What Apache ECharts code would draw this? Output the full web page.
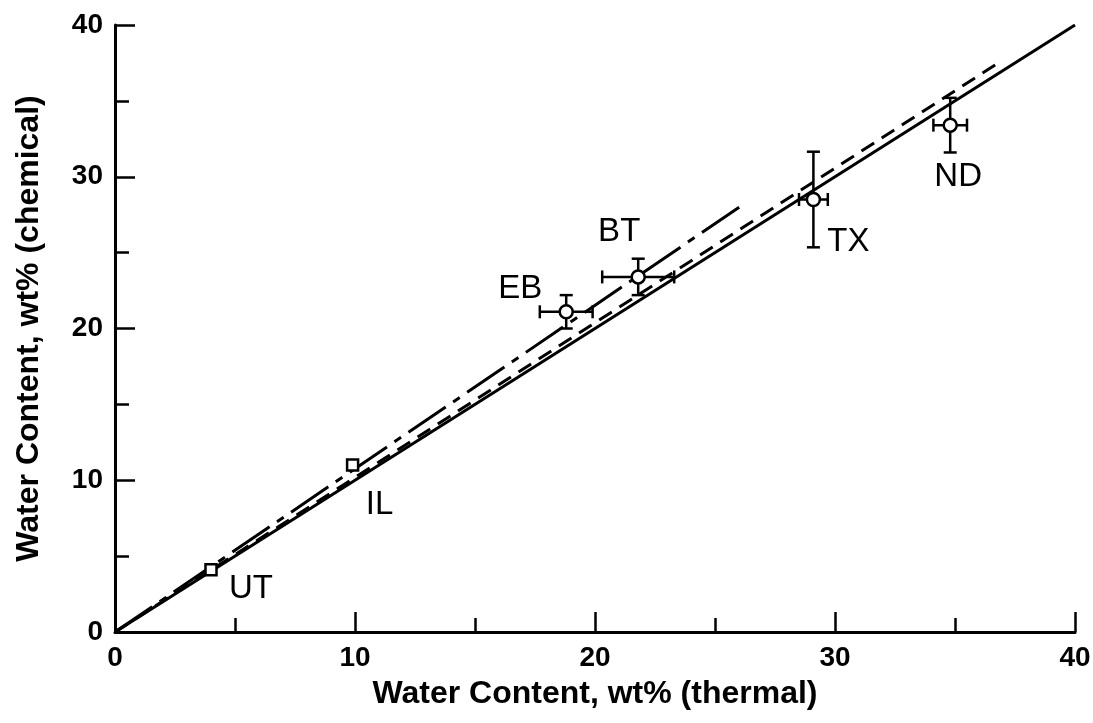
<!DOCTYPE html>
<html>
<head>
<meta charset="utf-8">
<script src="https://cdn.jsdelivr.net/npm/echarts@6/dist/echarts.min.js"></script>
<style>
html,body{margin:0;padding:0;background:#fff;}
#chart{width:1093px;height:723px;}
</style>
</head>
<body>
<div id="chart"></div>
<script>
// ---- data ----
const sites        = ['UT', 'IL', 'EB', 'BT', 'TX', 'ND'];
const thermal      = [4.0, 9.9, 18.8, 21.8, 29.1, 34.8];
const chemical     = [4.1, 11.0, 21.1, 23.4, 28.5, 33.4];
const thermalErr   = [0, 0, 1.1, 1.5, 0.6, 0.7];
const chemicalErr  = [0, 0, 1.1, 1.2, 3.15, 1.8];
const fitSolid     = [[0, 0], [40, 40]];
const fitDashed    = [[0, 0], [36.9, 37.6]];
const fitDashDot   = [[0, 0], [26.2, 28.2]];
const xTicks = [0, 10, 20, 30, 40];
const yTicks = [0, 10, 20, 30, 40];

// ---- styling (not data) ----
const squareSites = ['UT', 'IL'];
const labelOffset = { UT: [40, 19], IL: [27, 40], EB: [-46, -23], BT: [-19, -45], TX: [35, 42], ND: [8, 52] };

const FONT = "'Liberation Sans', Arial, Helvetica, sans-serif";

const chart = echarts.init(document.getElementById('chart'), null, { renderer: 'canvas' });

const pts = sites.map((s, i) => ({
  value: [thermal[i], chemical[i]],
  name: s,
  symbol: squareSites.includes(s) ? 'rect' : 'circle',
  symbolSize: squareSites.includes(s) ? 11 : 13,
  label: {
    show: true, formatter: s, position: 'inside', offset: labelOffset[s],
    color: '#000', fontSize: 33, fontFamily: FONT, fontWeight: 'normal'
  }
}));

const errData = sites.map((s, i) => [thermal[i], chemical[i], thermalErr[i], chemicalErr[i]]);

function axisCommon(ticks) {
  return {
    type: 'value', min: ticks[0], max: ticks[ticks.length - 1], interval: ticks[1] - ticks[0],
    axisLine: { show: true, onZero: false, lineStyle: { color: '#000', width: 3 } },
    axisTick: { show: true, inside: true, length: 20, lineStyle: { color: '#000', width: 2.5 } },
    minorTick: { show: true, splitNumber: 2, length: 14, lineStyle: { color: '#000', width: 2.5 } },
    splitLine: { show: false },
    minorSplitLine: { show: false },
    axisLabel: { color: '#000', fontSize: 28, fontWeight: 'bold', fontFamily: FONT, showMinLabel: true, showMaxLabel: true, margin: 12 },
    nameTextStyle: { color: '#000', fontSize: 32, fontWeight: 'bold', fontFamily: FONT }
  };
}

const option = {
  backgroundColor: '#fff',
  animation: false,
  grid: { left: 115, right: 18, top: 25, bottom: 91, containLabel: false, outerBoundsMode: 'none' },
  xAxis: Object.assign(axisCommon(xTicks), {
    name: 'Water Content, wt% (thermal)', nameLocation: 'middle', nameGap: 46
  }),
  yAxis: Object.assign(axisCommon(yTicks), {
    name: 'Water Content, wt% (chemical)', nameLocation: 'middle', nameGap: 70, nameRotate: 90
  }),
  series: [
    { type: 'line', data: fitSolid, symbol: 'none', lineStyle: { color: '#000', width: 3 }, z: 2 },
    { type: 'line', data: fitDashed, symbol: 'none', lineStyle: { color: '#000', width: 3, type: [15, 9] }, z: 2 },
    { type: 'line', data: fitDashDot, symbol: 'none', lineStyle: { color: '#000', width: 3, type: [45, 9, 8, 9] }, z: 2 },
    {
      type: 'custom', data: errData, z: 3,
      renderItem: function (params, api) {
        const x = api.value(0), y = api.value(1), ex = api.value(2), ey = api.value(3);
        const cap = 6.5;
        const style = { stroke: '#000', lineWidth: 2.5 };
        const children = [];
        if (ex > 0) {
          const l = api.coord([x - ex, y]), r = api.coord([x + ex, y]);
          children.push({ type: 'line', shape: { x1: l[0], y1: l[1], x2: r[0], y2: r[1] }, style });
          children.push({ type: 'line', shape: { x1: l[0], y1: l[1] - cap, x2: l[0], y2: l[1] + cap }, style });
          children.push({ type: 'line', shape: { x1: r[0], y1: r[1] - cap, x2: r[0], y2: r[1] + cap }, style });
        }
        if (ey > 0) {
          const t = api.coord([x, y + ey]), b = api.coord([x, y - ey]);
          children.push({ type: 'line', shape: { x1: t[0], y1: t[1], x2: b[0], y2: b[1] }, style });
          children.push({ type: 'line', shape: { x1: t[0] - cap, y1: t[1], x2: t[0] + cap, y2: t[1] }, style });
          children.push({ type: 'line', shape: { x1: b[0] - cap, y1: b[1], x2: b[0] + cap, y2: b[1] }, style });
        }
        return { type: 'group', children };
      }
    },
    {
      type: 'scatter', data: pts, z: 4,
      itemStyle: { color: '#fff', borderColor: '#000', borderWidth: 2.5, opacity: 1 }
    }
  ]
};

chart.setOption(option);
</script>
</body>
</html>
